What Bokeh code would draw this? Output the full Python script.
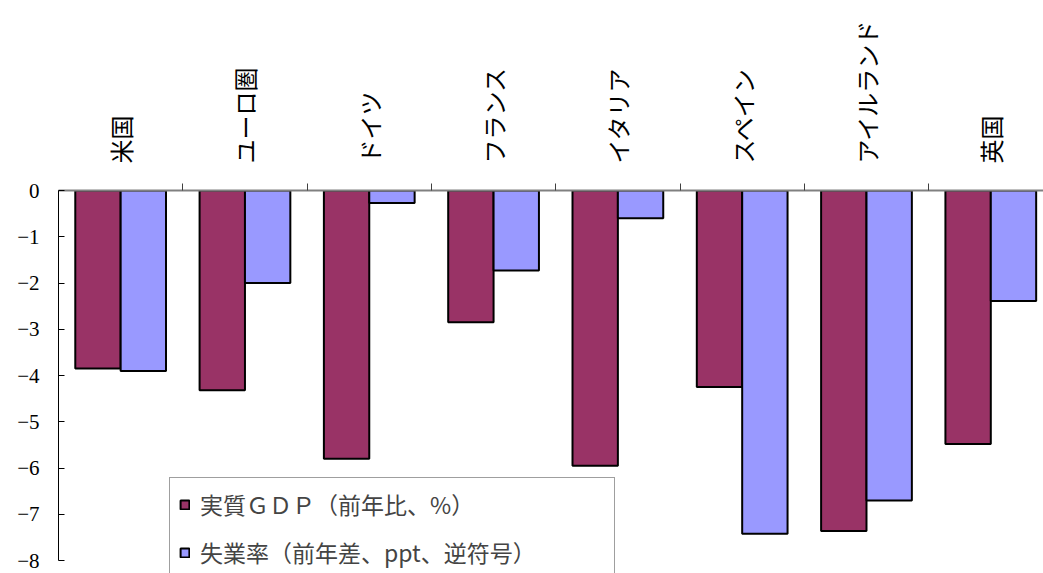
import math
from bokeh.plotting import figure
from bokeh.models import (ColumnDataSource, Range1d, LinearAxis, FixedTicker,
                          Legend, LegendItem)
from bokeh.transform import dodge
from bokeh.embed import file_html
from bokeh.resources import INLINE

# ---- data ----
categories = ["米国", "ユーロ圏", "ドイツ", "フランス", "イタリア", "スペイン", "アイルランド", "英国"]
gdp = [-3.85, -4.32, -5.8, -2.85, -5.95, -4.25, -7.36, -5.48]
unemployment = [-3.9, -2.0, -0.27, -1.73, -0.6, -7.42, -6.7, -2.39]
series_names = ["実質ＧＤＰ（前年比、%）", "失業率（前年差、ppt、逆符号）"]
y_ticks = [0, -1, -2, -3, -4, -5, -6, -7, -8]
y_tick_labels = ["0", "−1", "−2", "−3", "−4", "−5", "−6", "−7", "−8"]

colors = ["#993366", "#9999FF"]

xpos = [i + 0.5 for i in range(len(categories))]
source = ColumnDataSource(dict(x=xpos, cat=categories, gdp=gdp, unemp=unemployment))

p = figure(width=1043, height=573, output_backend="svg", toolbar_location=None,
           x_range=Range1d(0, 7.924), y_range=Range1d(-8.281, 0),
           min_border_left=58, min_border_top=190, min_border_bottom=0,
           min_border_right=0, x_axis_location=None, y_axis_location=None)
p.outline_line_color = None
p.xgrid.visible = False
p.ygrid.visible = False
p.background_fill_color = "white"
p.border_fill_color = "white"

bw = 0.365
r1 = p.vbar(x=dodge("x", -bw / 2, range=p.x_range), top=0, bottom="gdp", width=bw,
            source=source, fill_color=colors[0], line_color="black", line_width=2)
r2 = p.vbar(x=dodge("x", bw / 2, range=p.x_range), top=0, bottom="unemp", width=bw,
            source=source, fill_color=colors[1], line_color="black", line_width=2)

# left axis
yaxis = LinearAxis(ticker=FixedTicker(ticks=y_ticks, minor_ticks=[]), bounds=(-8, 0),
                   major_label_text_font="Liberation Serif", major_label_text_font_size="21px")
yaxis.major_label_overrides = {t: l for t, l in zip(y_ticks, y_tick_labels)}
yaxis.axis_line_color = "black"
yaxis.axis_line_width = 1
yaxis.major_tick_in = 6
yaxis.major_tick_out = 0
yaxis.major_tick_line_color = "black"
yaxis.minor_tick_line_color = None
yaxis.major_label_standoff = 19
yaxis.major_label_text_color = "black"
p.add_layout(yaxis, "left")

# top category axis
xaxis = LinearAxis(ticker=FixedTicker(ticks=xpos, minor_ticks=list(range(1, len(categories)))))
xaxis.major_label_overrides = {x: c for x, c in zip(xpos, categories)}
xaxis.major_label_orientation = math.pi / 2
xaxis.axis_line_color = "#808080"
xaxis.axis_line_width = 2
xaxis.major_tick_line_color = None
xaxis.major_tick_in = 0
xaxis.major_tick_out = 0
xaxis.minor_tick_line_color = "#404040"
xaxis.minor_tick_in = 0
xaxis.minor_tick_out = 7
xaxis.major_label_standoff = 20
xaxis.major_label_text_font = "Noto Sans CJK JP"
xaxis.major_label_text_font_size = "24px"
xaxis.major_label_text_color = "black"
p.add_layout(xaxis, "above")

legend = Legend(items=[LegendItem(label=series_names[0], renderers=[r1]),
                       LegendItem(label=series_names[1], renderers=[r2])],
                location=(111, -6))
legend.label_text_font = "Noto Sans CJK JP"
legend.label_text_font_size = "23px"
legend.glyph_width = 11
legend.glyph_height = 11
legend.label_standoff = 10
legend.label_width = 405
legend.label_height = 22
legend.spacing = 14
legend.padding = 9
legend.margin = 0
legend.border_line_color = "#404040"
legend.border_line_width = 1
legend.background_fill_color = "white"
legend.background_fill_alpha = 1
p.add_layout(legend)

open("out.html", "w").write(file_html(p, INLINE))
